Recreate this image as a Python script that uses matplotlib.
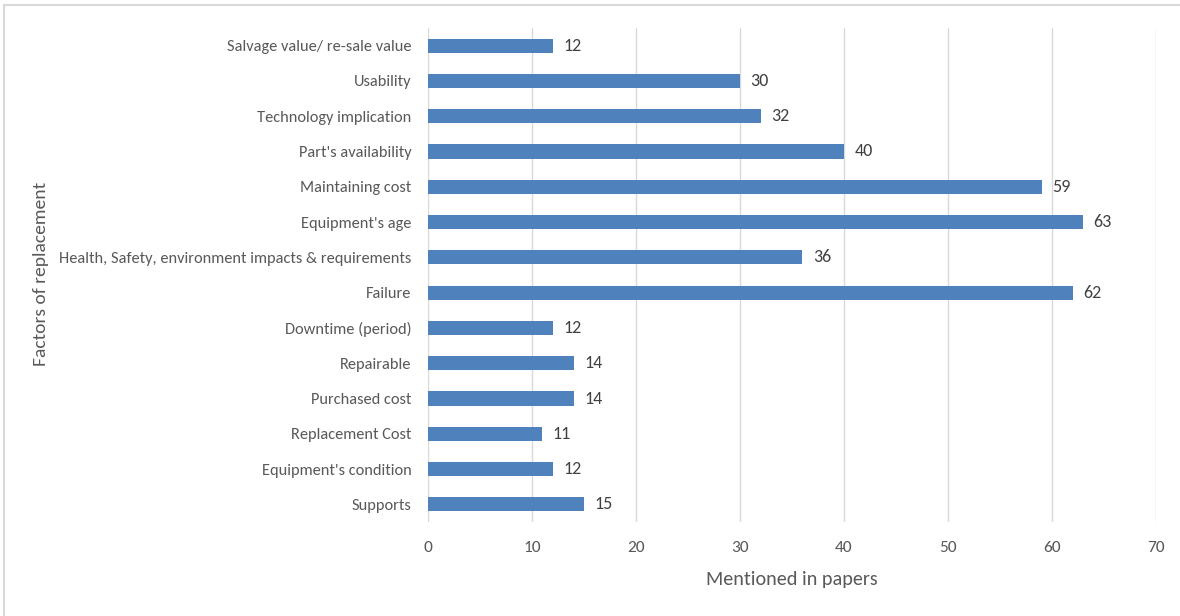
import matplotlib.pyplot as plt
from matplotlib.patches import Rectangle
from matplotlib import font_manager

factors = ["Salvage value/ re-sale value", "Usability", "Technology implication",
           "Part's availability", "Maintaining cost", "Equipment's age",
           "Health, Safety, environment impacts & requirements", "Failure",
           "Downtime (period)", "Repairable", "Purchased cost", "Replacement Cost",
           "Equipment's condition", "Supports"]
counts = [12, 30, 32, 40, 59, 63, 36, 62, 12, 14, 14, 11, 12, 15]
xticks = [0, 10, 20, 30, 40, 50, 60, 70]

names = {f.name for f in font_manager.fontManager.ttflist}
fam = 'DejaVu Sans'
for cand in ['Carlito', 'Archivo Narrow', 'Liberation Sans Narrow']:
    if cand in names:
        fam = cand
        break
plt.rcParams['font.family'] = [fam, 'DejaVu Sans']

fig = plt.figure(figsize=(11.8, 6.16), dpi=100)
ax = fig.add_axes([428/1180, 1-522/616, 728/1180, 494/616])

# bars from top to bottom
pos = list(range(len(factors)))[::-1]
ax.barh(pos, counts, height=0.4, color='#4F81BD', zorder=3)
for p, v in zip(pos, counts):
    ax.text(v + 1, p, str(v), va='center', ha='left', fontsize=13, color='#404040')

ax.set_xlim(0, 70)
ax.set_ylim(-0.5, len(factors) - 0.5)
ax.set_xticks(xticks)
ax.set_yticks(pos)
ax.set_yticklabels(factors)
ax.grid(axis='x', color='#D9D9D9', linewidth=1, zorder=0)
for s in ax.spines.values():
    s.set_visible(False)
ax.tick_params(axis='x', length=0, labelsize=12.5, labelcolor='#595959', pad=14)
ax.tick_params(axis='y', length=0, labelsize=11.8, labelcolor='#595959', pad=12)

ax.set_xlabel("Mentioned in papers", fontsize=14.5, color='#595959', labelpad=11)
fig.text(41/1180, 1-274/616, "Factors of replacement", rotation=90, ha='center',
         va='center', fontsize=14, color='#595959')

fig.patches.append(Rectangle((4/1180, -0.01), 1.0, 1 - 5/616 + 0.01, transform=fig.transFigure,
                             fill=False, edgecolor='#D9D9D9', linewidth=1.5))

fig.savefig("out.png", dpi=100)
